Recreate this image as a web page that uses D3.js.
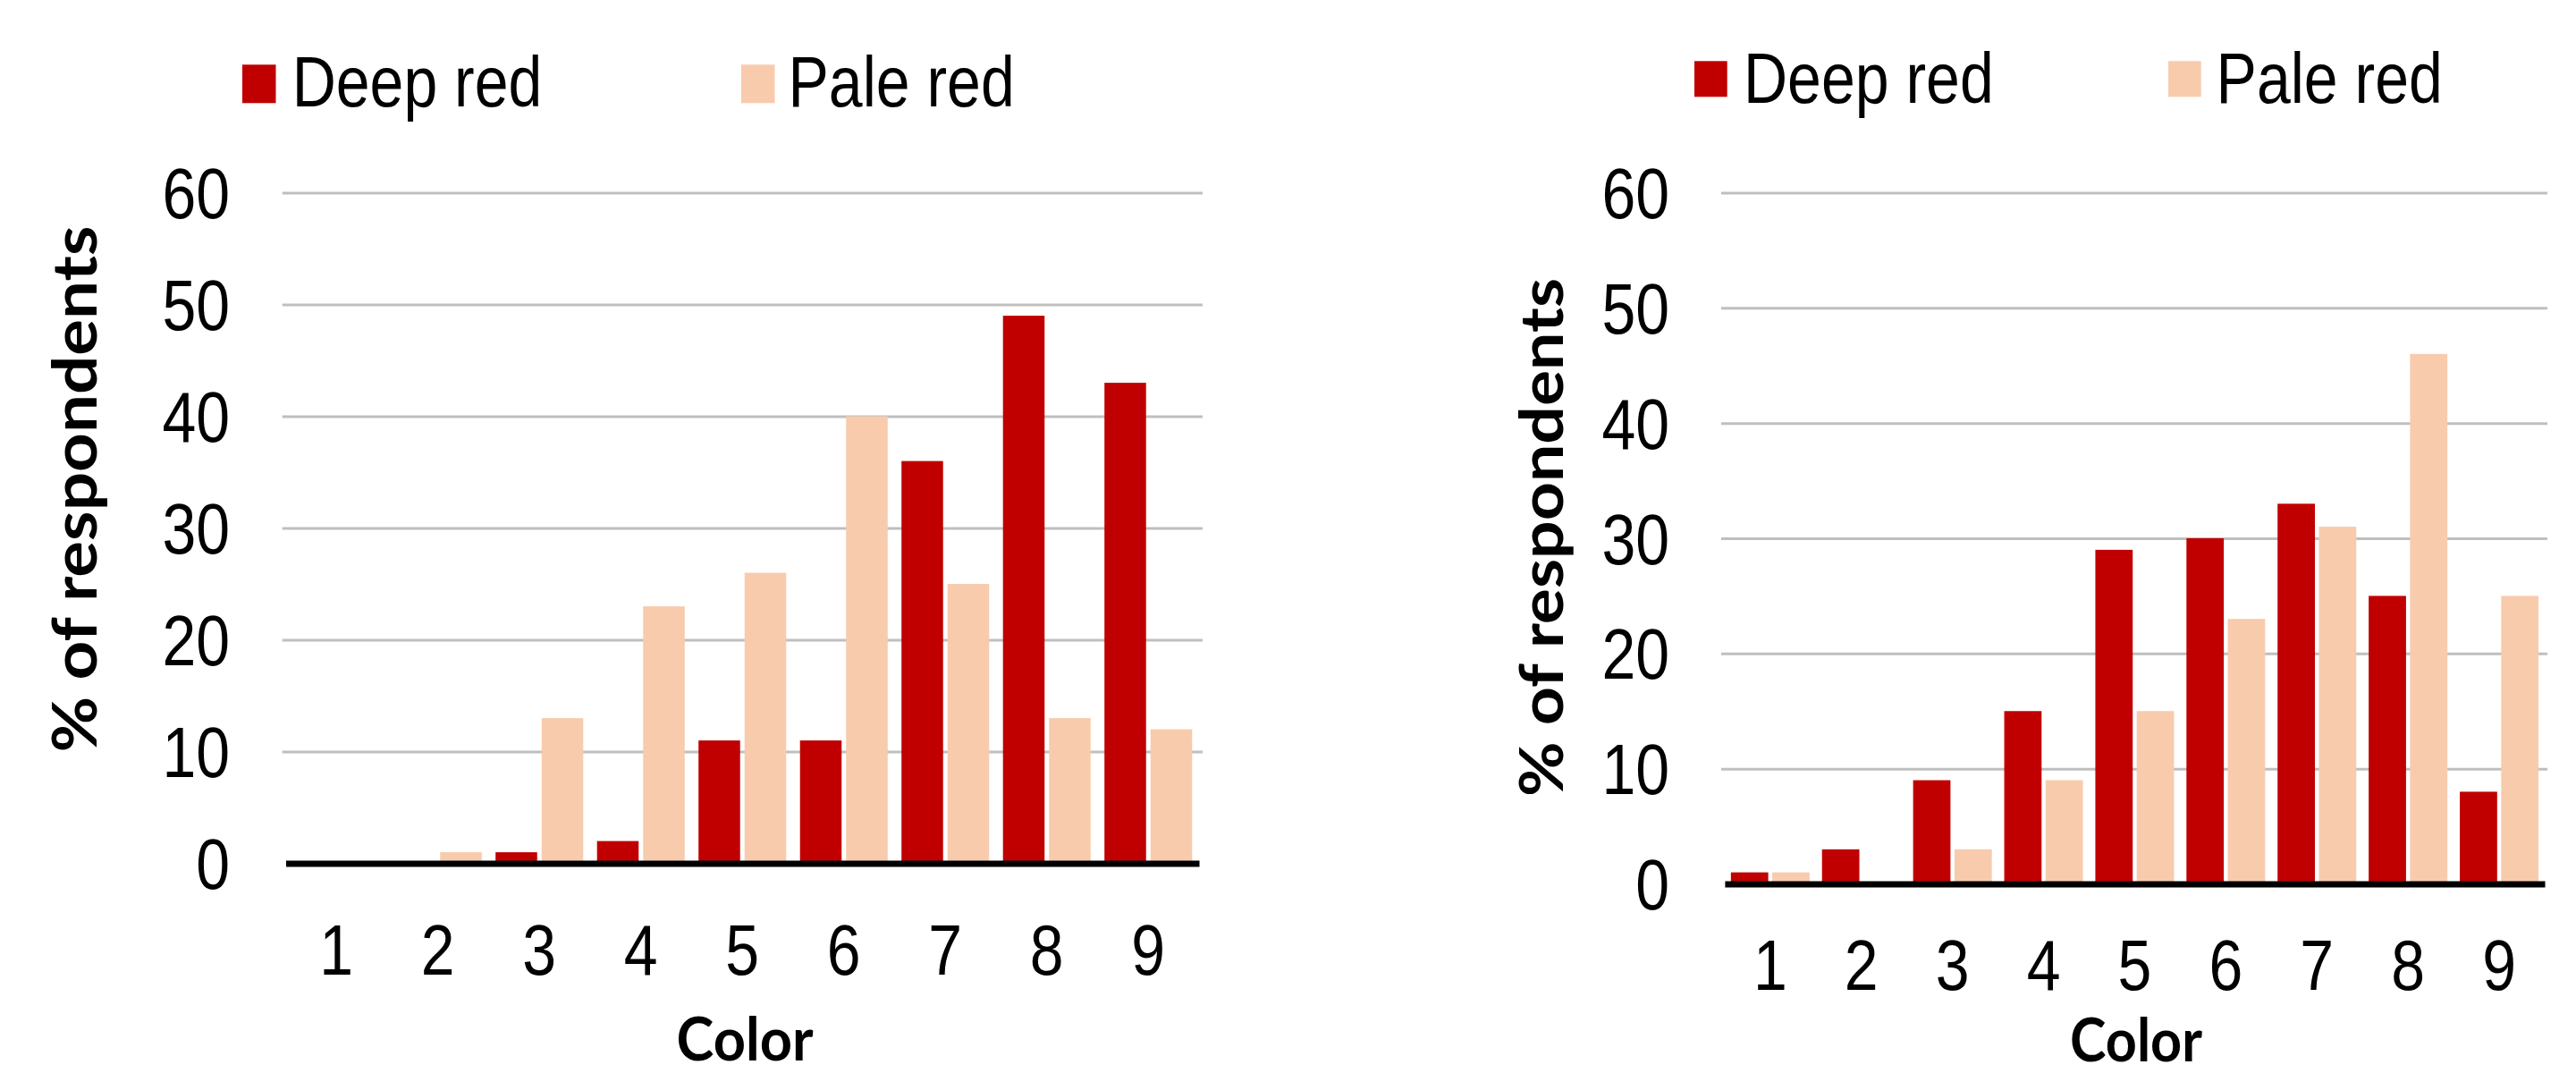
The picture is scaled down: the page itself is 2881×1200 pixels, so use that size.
<!DOCTYPE html>
<html>
<head>
<meta charset="utf-8">
<script src="https://cdn.jsdelivr.net/npm/d3@7"></script>
<style>
  html, body { margin: 0; padding: 0; background: #ffffff; }
  svg { display: block; }
</style>
</head>
<body>
<svg id="chart" width="2881" height="1200"></svg>
<script>
// ---- Data ----
const categories = ["1", "2", "3", "4", "5", "6", "7", "8", "9"];
const seriesNames = ["Deep red", "Pale red"];
const deepRedLeft  = [0, 0, 1, 2, 11, 11, 36, 49, 43];
const paleRedLeft  = [0, 1, 13, 23, 26, 40, 25, 13, 12];
const deepRedRight = [1, 3, 9, 15, 29, 30, 33, 25, 8];
const paleRedRight = [1, 0, 3, 9, 15, 23, 31, 46, 25];
const yTicks = [0, 10, 20, 30, 40, 50, 60];
const yTitleText = "% of respondents";
const xTitleText = "Color";

// ---- Styling ----
const colors = { "Deep red": "#C00000", "Pale red": "#F8CBAD" };
const ARIAL = "'Liberation Sans', Arial, sans-serif";
const BOLD = "Lato, 'Open Sans', sans-serif";
const FS = 68;        // base font size for Arial-like text
const SY = 1.18;      // vertical stretch of the original picture

const panels = [
  {
    values: [deepRedLeft, paleRedLeft],
    plotX0: 319.5, plotX1: 1341, gridX0: 315.7, gridX1: 1345,
    y0: 965.6, yTop: 215.6, tickRight: 257, xLabelOffset: 124.4,
    legend: { sqX: [271, 829], sqY: 72.3, sqW: 37.5, sqH: 43, txtX: [326.7, 881.5], base: 119.3 },
    yTitle: { x: 108.3, y: 547, len: 589, size: 69 },
    xTitle: { x: 833, y: 1186, len: 153 }
  },
  {
    values: [deepRedRight, paleRedRight],
    plotX0: 1928.9, plotX1: 2846, gridX0: 1925, gridX1: 2849,
    y0: 988.5, yTop: 215.5, tickRight: 1867, xLabelOffset: 118,
    legend: { sqX: [1895, 2425], sqY: 68.3, sqW: 36.7, sqH: 40, txtX: [1950, 2478.6], base: 115 },
    yTitle: { x: 1748.3, y: 601, len: 580, size: 67 },
    xTitle: { x: 2389, y: 1187, len: 148 }
  }
];

const svg = d3.select("#chart");

panels.forEach(p => {
  const g = svg.append("g");

  const y = d3.scaleLinear().domain([0, 60]).range([p.y0, p.yTop]);
  const x = d3.scaleBand().domain(categories).range([p.plotX0, p.plotX1]).padding(0);
  const xs = d3.scaleBand().domain(seriesNames).range([0, x.bandwidth()])
    .paddingInner(0.097).paddingOuter(0.15);

  // Gridlines + y tick labels via axis
  const yAxis = d3.axisLeft(y).tickValues(yTicks)
    .tickSize(-(p.gridX1 - p.gridX0))
    .tickPadding(p.gridX0 - p.tickRight)
    .tickFormat(d3.format("d"));
  const ya = g.append("g").attr("transform", `translate(${p.gridX0},0)`).call(yAxis);
  ya.select(".domain").remove();
  ya.selectAll(".tick line")
    .attr("stroke", "#BFBFBF").attr("stroke-width", 3)
    .attr("opacity", d => d === 0 ? 0 : 1);
  ya.selectAll(".tick text")
    .attr("font-family", ARIAL).attr("font-size", FS).attr("fill", "#000")
    .attr("dy", "0.35em")
    .attr("transform", `scale(1,${SY})`);

  // Bars
  const rows = categories.map((c, i) => ({ c, vals: seriesNames.map((s, k) => ({ s, v: p.values[k][i] })) }));
  const grp = g.append("g").selectAll("g").data(rows).join("g")
    .attr("transform", d => `translate(${x(d.c)},0)`);
  grp.selectAll("rect").data(d => d.vals).join("rect")
    .attr("x", d => xs(d.s))
    .attr("width", xs.bandwidth())
    .attr("y", d => y(d.v))
    .attr("height", d => y(0) - y(d.v))
    .attr("fill", d => colors[d.s]);

  // X axis baseline + labels
  const xAxis = d3.axisBottom(x).tickSize(0).tickSizeOuter(0);
  const xa = g.append("g").attr("transform", `translate(0,${p.y0})`).call(xAxis);
  xa.select(".domain").attr("stroke", "#000").attr("stroke-width", 7);
  xa.selectAll(".tick text")
    .attr("font-family", ARIAL).attr("font-size", FS).attr("fill", "#000")
    .attr("y", null).attr("dy", null)
    .attr("transform", `translate(0,${p.xLabelOffset}) scale(1,${SY})`);

  // Legend
  seriesNames.forEach((s, k) => {
    g.append("rect")
      .attr("x", p.legend.sqX[k]).attr("y", p.legend.sqY)
      .attr("width", p.legend.sqW).attr("height", p.legend.sqH)
      .attr("fill", colors[s]);
    g.append("text")
      .attr("transform", `translate(${p.legend.txtX[k]},${p.legend.base}) scale(1,${SY})`)
      .attr("font-family", ARIAL).attr("font-size", FS).attr("fill", "#000")
      .text(s);
  });

  // Y title
  g.append("text")
    .attr("transform", `translate(${p.yTitle.x},${p.yTitle.y}) rotate(-90)`)
    .attr("text-anchor", "middle")
    .attr("font-family", BOLD).attr("font-weight", 700)
    .attr("font-size", p.yTitle.size).attr("fill", "#000")
    .attr("textLength", p.yTitle.len).attr("lengthAdjust", "spacingAndGlyphs")
    .text(yTitleText);

  // X title
  g.append("text")
    .attr("transform", `translate(${p.xTitle.x},${p.xTitle.y}) scale(1,${SY})`)
    .attr("text-anchor", "middle")
    .attr("font-family", BOLD).attr("font-weight", 700)
    .attr("font-size", 57).attr("fill", "#000")
    .attr("textLength", p.xTitle.len).attr("lengthAdjust", "spacingAndGlyphs")
    .text(xTitleText);
});
</script>
</body>
</html>
